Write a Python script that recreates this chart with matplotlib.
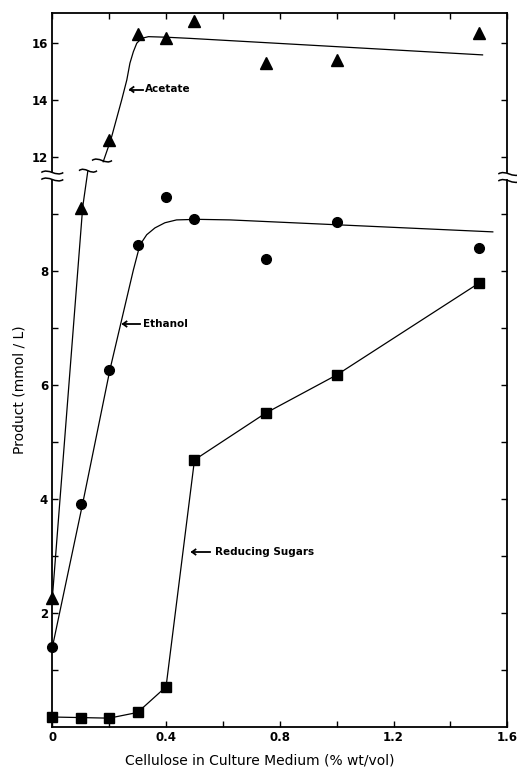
import matplotlib
matplotlib.use("Agg")
import matplotlib.pyplot as plt
from matplotlib.path import Path
from matplotlib.patches import PathPatch

W, H = 517, 770

# --- measured points ---
cellulose = [0, 0.1, 0.2, 0.3, 0.4, 0.5, 0.75, 1.0, 1.5]
acetate = [2.25, 9.1, 12.6, 16.3, 16.15, 16.75, 15.3, 15.4, 16.35]
ethanol = [1.4, 3.9, 6.25, 8.45, 9.3, 8.9, 8.2, 8.85, 8.4]
sugars = [0.17, 0.16, 0.15, 0.25, 0.7, 4.68, 5.5, 6.17, 7.78]

# --- hand-drawn fit curves ---
acetate_fit_low_x = [0, 0.107, 0.125]
acetate_fit_low_y = [2.25, 9.12, 9.75]
acetate_fit_high_x = [0.179, 0.206, 0.244, 0.262, 0.273, 0.285, 0.297, 0.314,
                      0.338, 0.402, 0.484, 1.513]
acetate_fit_high_y = [11.82, 12.6, 13.99, 14.69, 15.28, 15.68, 15.98, 16.15,
                      16.21, 16.19, 16.15, 15.57]
ethanol_fit_x = [0, 0.107, 0.203, 0.285, 0.308, 0.332, 0.361, 0.396, 0.437,
                 0.51, 0.625, 1.549]
ethanol_fit_y = [1.39, 3.92, 6.27, 8.01, 8.45, 8.63, 8.75, 8.84, 8.89,
                 8.90, 8.89, 8.68]

LOW_MAX = 9.59
HIGH_MIN, HIGH_MAX = 11.47, 17.03


def px(x, y):
    # pixel (top-left origin) -> figure fraction
    return x / W, 1 - y / H


fig = plt.figure(figsize=(W / 100, H / 100), dpi=100)
left, right = 52.3, 507.3
ax_top = fig.add_axes([left / W, 1 - 171.7 / H, (right - left) / W, (171.7 - 13.3) / H])
ax_bot = fig.add_axes([left / W, 1 - 726.7 / H, (right - left) / W, (726.7 - 180) / H])

for ax in (ax_top, ax_bot):
    ax.set_xlim(0, 1.6)
    for s in ax.spines.values():
        s.set_linewidth(1.3)
    ax.tick_params(which="both", direction="in", length=4, width=1,
                   top=True, right=True, labelsize=8.5)
    ax.set_xticks([0, 0.4, 0.8, 1.2, 1.6])
    ax.set_xticks([0.2, 0.6, 1.0, 1.4], minor=True)

ax_top.set_ylim(HIGH_MIN, HIGH_MAX)
ax_top.set_yticks([12, 14, 16])
ax_top.spines["bottom"].set_visible(False)
ax_top.tick_params(which="both", bottom=False, labelbottom=False)

ax_bot.set_ylim(0, LOW_MAX)
ax_bot.set_yticks([2, 4, 6, 8])
ax_bot.set_yticks([1, 3, 5, 7, 9], minor=True)
ax_bot.spines["top"].set_visible(False)
ax_bot.tick_params(which="both", top=False)
ax_bot.set_xticklabels(["0", "0.4", "0.8", "1.2", "1.6"])

for ax in (ax_top, ax_bot):
    for lab in ax.get_xticklabels() + ax.get_yticklabels():
        lab.set_fontweight("bold")
ax_bot.tick_params(axis="x", pad=3)
ax_bot.tick_params(axis="y", pad=3)
ax_top.tick_params(axis="y", pad=3)

lw = 0.9
# fitted lines
ax_bot.plot(acetate_fit_low_x, acetate_fit_low_y, color="black", lw=lw, clip_on=False)
ax_top.plot(acetate_fit_high_x, acetate_fit_high_y, color="black", lw=lw)
ax_bot.plot(ethanol_fit_x, ethanol_fit_y, color="black", lw=lw)
ax_bot.plot(cellulose, sugars, color="black", lw=lw)

# markers
for x, y in zip(cellulose, acetate):
    ax = ax_bot if y < LOW_MAX else ax_top
    ax.plot(x, y, marker="^", ms=9, color="black", ls="none", clip_on=False, zorder=5)
ax_bot.plot(cellulose, ethanol, marker="o", ms=7, color="black", ls="none",
            clip_on=False, zorder=5)
ax_bot.plot(cellulose, sugars, marker="s", ms=7, color="black", ls="none",
            clip_on=False, zorder=5)

# curve labels: arrow (tip, tail) and text start, in pixels
labels = [("Acetate", 130, 143, 145, 89.5),
          ("Ethanol", 123, 140, 143, 324),
          ("Reducing Sugars", 192, 210, 215, 552)]
for name, tip, tail, tx, ty in labels:
    fig.text(tx / W, 1 - ty / H, name, fontsize=7.5, fontweight="bold", va="center")
    fig.add_artist(plt.Line2D([tip / W, tail / W], [1 - ty / H, 1 - ty / H],
                              color="black", lw=1.3))
    fig.add_artist(plt.Line2D([(tip + 3.5) / W, tip / W, (tip + 3.5) / W],
                              [1 - (ty - 2.5) / H, 1 - ty / H, 1 - (ty + 2.5) / H],
                              color="black", lw=1.3))


# break marks
def tilde(cx, cy, w=22, h=2.5):
    pts = [px(cx - w / 2, cy), px(cx - w / 6, cy - 2 * h),
           px(cx + w / 6, cy + 2 * h), px(cx + w / 2, cy)]
    path = Path(pts, [Path.MOVETO, Path.CURVE4, Path.CURVE4, Path.CURVE4])
    fig.add_artist(PathPatch(path, fill=False, lw=1.1, color="black",
                             transform=fig.transFigure))


for cy in (172.5, 179.5):
    tilde(left, cy)
    tilde(right + 2, cy + 1.5)
tilde(88, 170.7, w=18)
tilde(102, 160.5, w=20)

fig.text(260 / W, 1 - 761 / H, "Cellulose in Culture Medium (% wt/vol)",
         fontsize=10, ha="center", va="center")
fig.text(20 / W, 1 - 390 / H, "Product (mmol / L)", fontsize=10,
         rotation=90, ha="center", va="center")

fig.savefig("out.png", dpi=100)
